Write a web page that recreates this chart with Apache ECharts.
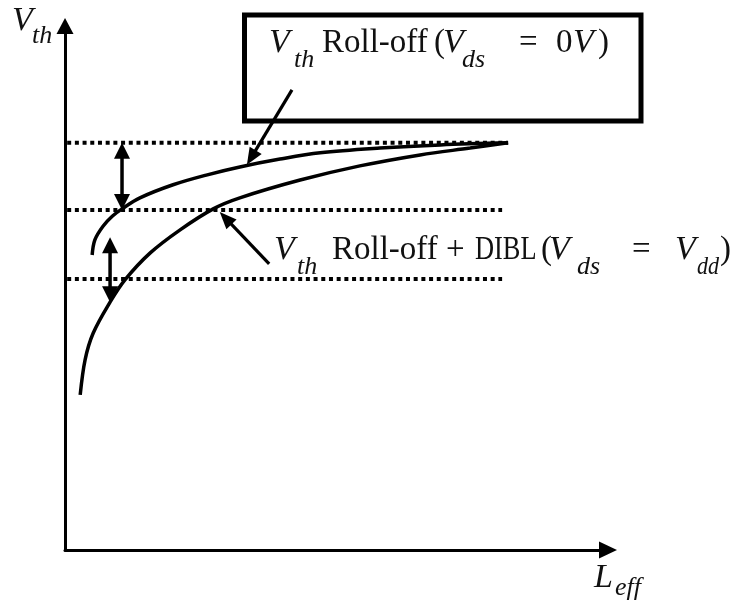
<!DOCTYPE html>
<html>
<head>
<meta charset="utf-8">
<style>
  html, body { margin: 0; padding: 0; background: #fff; }
  #chart { width: 731px; height: 603px; }
</style>
<script src="https://cdn.jsdelivr.net/npm/echarts@6/dist/echarts.min.js"></script>
</head>
<body>
<div id="chart"></div>
<script>
// Threshold-voltage roll-off vs. effective channel length (schematic, arbitrary units)

// Reference Vth levels (dotted guides) and their L_eff extent
const vthLevels = [7.77, 6.49, 5.17];
const levelStart = [0.04, 0.04, 0.04];
const levelEnd = [8.16, 8.05, 8.05];

// Vth roll-off curve at Vds = 0 V
const rollOffLeff = [0.50, 0.55, 0.70, 0.87, 1.05, 1.38, 1.99, 2.62, 3.22, 3.96, 4.70, 5.80, 6.91, 8.16];
const rollOffVth  = [5.63, 5.92, 6.18, 6.37, 6.51, 6.72, 6.97, 7.16, 7.31, 7.46, 7.58, 7.67, 7.73, 7.77];

// Vth roll-off + DIBL curve at Vds = Vdd
const diblLeff = [0.28, 0.37, 0.52, 0.83, 1.10, 1.57, 2.12, 2.73, 3.22, 4.33, 5.43, 6.54, 7.46, 8.16];
const diblVth  = [2.96, 3.63, 4.14, 4.73, 5.15, 5.67, 6.11, 6.51, 6.72, 7.06, 7.33, 7.54, 7.67, 7.77];

// Double-headed shift markers: [L_eff, Vth from, Vth to]
const shiftMarkers = [
  [1.05, 7.77, 6.49],
  [0.83, 5.97, 4.73]
];

// Pointer arrows from the labels to the curves: [L tail, Vth tail, L tip, Vth tip]
const pointerArrows = [
  [4.18, 8.78, 3.35, 7.35],
  [3.76, 5.46, 2.85, 6.45]
];

const INK = '#000';

const chart = echarts.init(document.getElementById('chart'), null, { renderer: 'canvas' });

function pairs(xs, ys) { return xs.map((x, i) => [x, ys[i]]); }

const levelSeries = vthLevels.map((v, i) => ({
  type: 'line',
  data: [[levelStart[i], v], [levelEnd[i], v]],
  symbol: 'none',
  silent: true,
  z: 1,
  lineStyle: { color: INK, width: 4, type: [4, 3.7], cap: 'butt' }
}));

// Arrow data: [x1, y1, x2, y2, bothHeads]
const arrowData = shiftMarkers.map(m => [m[0], m[1], m[0], m[2], 1])
  .concat(pointerArrows.map(p => [p[0], p[1], p[2], p[3], 0]));

function renderArrow(params, api) {
  const a = api.coord([api.value(0), api.value(1)]);
  const b = api.coord([api.value(2), api.value(3)]);
  const both = api.value(4) === 1;
  const hl = both ? 16 : 17;
  const hw = both ? 16 : 14;
  const dx = b[0] - a[0], dy = b[1] - a[1];
  const len = Math.hypot(dx, dy);
  const ux = dx / len, uy = dy / len;
  const px = -uy, py = ux;
  function head(tip, sx, sy) {
    const bx = tip[0] - sx * hl, by = tip[1] - sy * hl;
    return {
      type: 'polygon',
      shape: { points: [tip, [bx + px * hw / 2, by + py * hw / 2], [bx - px * hw / 2, by - py * hw / 2]] },
      style: { fill: INK }
    };
  }
  const s = both ? [a[0] + ux * hl * 0.7, a[1] + uy * hl * 0.7] : a;
  const e = [b[0] - ux * hl * 0.7, b[1] - uy * hl * 0.7];
  const children = [{
    type: 'line',
    shape: { x1: s[0], y1: s[1], x2: e[0], y2: e[1] },
    style: { stroke: INK, lineWidth: both ? 3.5 : 3.2 }
  }, head(b, ux, uy)];
  if (both) children.push(head(a, -ux, -uy));
  return { type: 'group', children };
}

// Math-style text: italic symbols with lowered italic subscripts
const SIZE = { rm: 33, v: 34, sub: 26 };
const FONT = {
  rm: SIZE.rm + 'px "Liberation Serif", serif',
  v: 'italic ' + SIZE.v + 'px "Liberation Serif", serif',
  sub: 'italic ' + SIZE.sub + 'px "Liberation Serif", serif'
};

// seg: [text, x, kind, horizontalScale]
function mathText(segs, baseline, subBaseline) {
  return segs.map(([t, x, kind, sx]) => {
    const size = SIZE[kind];
    const base = kind === 'sub' ? subBaseline : baseline;
    return {
      type: 'text',
      x: x,
      y: base - 0.34 * size,
      scaleX: sx || 1,
      z: 10,
      silent: true,
      style: {
        text: t, font: FONT[kind], fill: '#111',
        textAlign: 'left', textVerticalAlign: 'middle',
        align: 'left', verticalAlign: 'middle'
      }
    };
  });
}

const graphics = [
  {
    type: 'rect',
    z: 5,
    silent: true,
    shape: { x: 244.5, y: 15, width: 396.5, height: 106 },
    style: { fill: 'none', stroke: INK, lineWidth: 5 }
  }
]
  .concat(mathText([
    ['V', 269, 'v'], ['th', 294, 'sub'], ['Roll-off', 322, 'rm'], ['(', 434, 'rm'],
    ['V', 443, 'v'], ['ds', 462, 'sub'], ['=', 519, 'rm'], ['0', 556, 'rm'],
    ['V', 573, 'v'], [')', 598, 'rm']
  ], 55, 69))
  .concat(mathText([
    ['V', 274, 'v'], ['th', 297, 'sub'], ['Roll-off', 332, 'rm'], ['+', 446, 'rm'],
    ['DIBL', 475, 'rm', 0.8], ['(', 541, 'rm'], ['V', 549, 'v'], ['ds', 577, 'sub'],
    ['=', 632, 'rm'], ['V', 675, 'v'], ['dd', 697, 'sub', 0.85], [')', 720, 'rm']
  ], 262, 276))
  .concat(mathText([['V', 12, 'v'], ['th', 32, 'sub']], 33, 45))
  .concat(mathText([['L', 594, 'v'], ['eff', 615, 'sub']], 590, 597));

const option = {
  backgroundColor: '#fff',
  animation: false,
  grid: { left: 65, top: 26, width: 543, height: 524, containLabel: false },
  xAxis: {
    type: 'value', min: 0, max: 10,
    axisLine: {
      show: true, onZero: false,
      symbol: ['none', 'triangle'], symbolSize: [17, 18],
      lineStyle: { color: INK, width: 3 }
    },
    axisTick: { show: false }, axisLabel: { show: false }, splitLine: { show: false }
  },
  yAxis: {
    type: 'value', min: 0, max: 10,
    axisLine: {
      show: true, onZero: false,
      symbol: ['none', 'triangle'], symbolSize: [17, 16],
      lineStyle: { color: INK, width: 3 }
    },
    axisTick: { show: false }, axisLabel: { show: false }, splitLine: { show: false }
  },
  series: levelSeries.concat([
    {
      name: 'Vth Roll-off (Vds = 0V)',
      type: 'line',
      data: pairs(rollOffLeff, rollOffVth),
      smooth: 0.35,
      symbol: 'none',
      z: 3,
      lineStyle: { color: INK, width: 3.5 }
    },
    {
      name: 'Vth Roll-off + DIBL (Vds = Vdd)',
      type: 'line',
      data: pairs(diblLeff, diblVth),
      smooth: 0.35,
      symbol: 'none',
      z: 3,
      lineStyle: { color: INK, width: 3.5 }
    },
    {
      type: 'custom',
      coordinateSystem: 'cartesian2d',
      renderItem: renderArrow,
      encode: { x: [0, 2], y: [1, 3] },
      data: arrowData,
      silent: true,
      z: 4
    }
  ]),
  graphic: graphics
};

chart.setOption(option);
</script>
</body>
</html>
